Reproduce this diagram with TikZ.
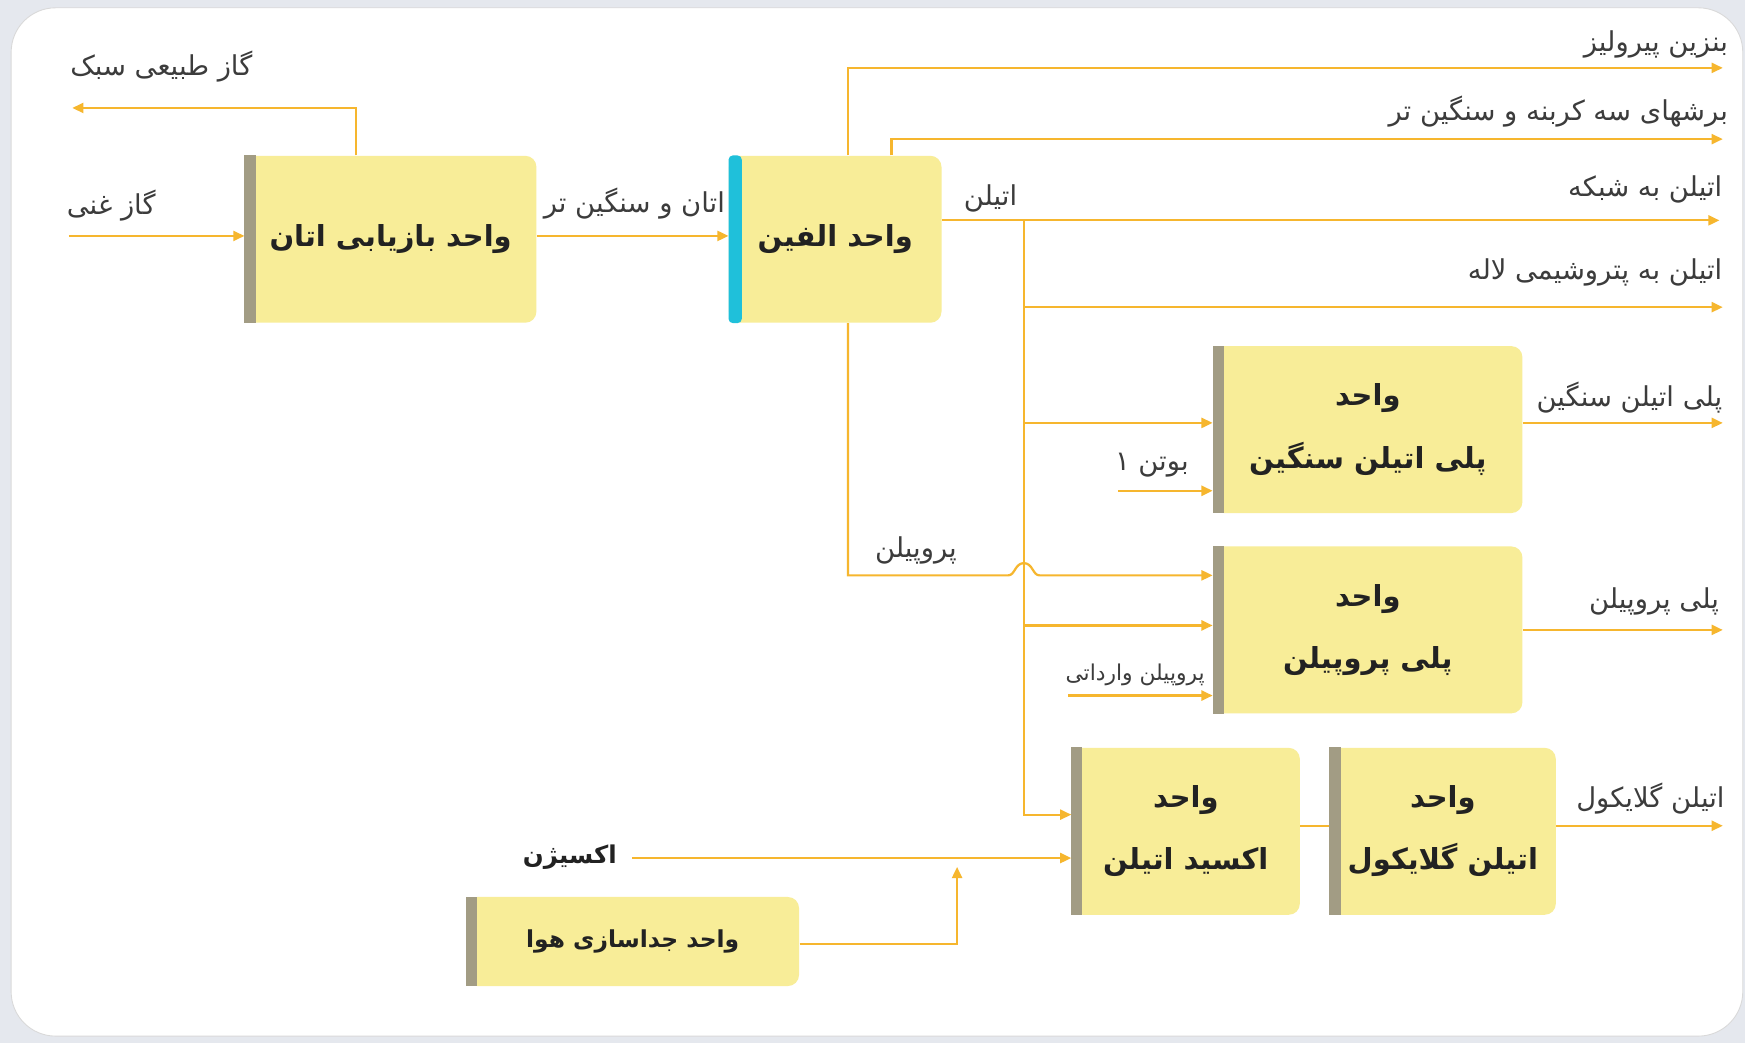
\documentclass[tikz,border=0pt]{standalone}
\usepackage{fontspec}
\usetikzlibrary{arrows.meta,calc}
\TeXXeTstate=1
\newfontfamily\fa[Script=Arabic]{DejaVu Sans}
\definecolor{boxY}{HTML}{F8ED98}
\definecolor{bandG}{HTML}{A29C84}
\definecolor{bandC}{HTML}{1FC0DA}
\definecolor{lineO}{HTML}{F6B62E}
\definecolor{txtD}{HTML}{222222}
\definecolor{txtL}{HTML}{3C3C3C}
\definecolor{pageB}{HTML}{E5E8EE}
\tikzset{
 unit/.style={fill=boxY, rounded corners=5pt, inner sep=0pt, minimum height=75pt, text=txtD, font=\fa\bfseries\fontsize{13}{28}\selectfont, align=center},
 flow/.style={draw=lineO, line width=1pt},
 arr/.style={flow, -{Triangle[length=5pt,width=4.5pt]}},
 lbl/.style={text=txtL, font=\fa\fontsize{12.3}{14}\selectfont, inner sep=0pt},
}
\begin{document}
\begin{tikzpicture}[x=0.5pt,y=-0.5pt]
\useasboundingbox (0,0) rectangle (1568,937);
\fill[pageB] (0,0) rectangle (1568,937);
\fill[white, draw=black!15, rounded corners=20pt] (10,7) rectangle (1566,931);

% units
\node[unit, minimum width=131pt] (rec) at (351,215) {\beginR واحد بازیابی اتان\endR};
\node[unit, minimum width=95.5pt] (ole) at (750.5,215) {\beginR واحد الفین\endR};
\node[unit, minimum width=139pt] (pe) at (1229,386) {\beginR واحد\endR\\\beginR پلی اتیلن سنگین\endR};
\node[unit, minimum width=139pt] (pp) at (1229,566) {\beginR واحد\endR\\\beginR پلی پروپیلن\endR};
\node[unit, minimum width=102.5pt] (eo) at (1065.5,747) {\beginR واحد\endR\\\beginR اکسید اتیلن\endR};
\node[unit, minimum width=101.5pt] (eg) at (1296.5,747) {\beginR واحد\endR\\\beginR اتیلن گلایکول\endR};
\node[unit, minimum width=149.5pt, minimum height=40pt, font=\fa\bfseries\fontsize{10.5}{13}\selectfont] (air) at (568.5,846) {\beginR واحد جداسازی هوا\endR};
\foreach \n in {rec,pe,pp,eo,eg,air} \fill[bandG] (\n.north west) rectangle ([xshift=5pt]\n.south west);
\fill[bandC, rounded corners=2pt] (ole.north west) rectangle ([xshift=6pt]ole.south west);

% connectors
\coordinate (gasL) at (65,97);
\coordinate (k1) at (320,97);
\draw[arr] (rec.north -| k1) -- (k1) -- (gasL);
\coordinate (richL) at (62,212);
\draw[arr] (richL) -- (rec.west |- richL);
\draw[arr] (rec.east |- richL) -- (ole.west |- richL);

\coordinate (pgR) at (1548,61);
\coordinate (k3) at (762,61);
\draw[arr] (ole.north -| k3) -- (k3) -- (pgR);
\coordinate (c3R) at (1548,125);
\coordinate (k4) at (801,125);
\draw[arr] (ole.north -| k4) -- (k4) -- (c3R);
\coordinate (ethR) at (1545,198);
\coordinate (j1) at (920,198);
\draw[arr] (ole.east |- ethR) -- (ethR);
\coordinate (j2) at (920,276);
\coordinate (lalR) at (1548,276);
\draw[arr] (j2) -- (lalR);
\coordinate (j3) at (920,380);
\draw[arr] (j3) -- (pe.west |- j3);
\coordinate (j4) at (920,562);
\draw[arr] (j4) -- (pp.west |- j4);
\coordinate (j5) at (920,732);
\draw[arr] (j1) -- (j5) -- (eo.west |- j5);
\coordinate (butL) at (1005,441);
\draw[arr] (butL) -- (pe.west |- butL);
\coordinate (impL) at (960,625);
\draw[arr] (impL) -- (pp.west |- impL);
\coordinate (k5) at (762,517);
\draw[arr] (ole.south -| k5) -- (k5) -- (906,517) .. controls (912,517) and (912,506) .. (920,506) .. controls (928,506) and (928,517) .. (934,517) -- (pp.west |- k5);

\coordinate (peR) at (1548,380);
\draw[arr] (pe.east |- peR) -- (peR);
\coordinate (ppR) at (1548,566);
\draw[arr] (pp.east |- ppR) -- (ppR);
\coordinate (egR) at (1548,742);
\draw[arr] (eg.east |- egR) -- (egR);
\draw[flow] (eo.east |- egR) -- (eg.west |- egR);
\coordinate (oxL) at (568,771);
\draw[arr] (oxL) -- (eo.west |- oxL);
\coordinate (k6) at (860,848);
\coordinate (k7) at (860,779);
\draw[arr] (air.east |- k6) -- (k6) -- (k7);

% labels
\node[lbl] (tLight) at (145,60) {\beginR گاز طبیعی سبک\endR};
\node[lbl] (tRich) at (100,185) {\beginR گاز غنی\endR};
\node[lbl] (tEth) at (570,183) {\beginR اتان و سنگین تر\endR};
\node[lbl] (tEthy) at (890,178) {\beginR اتیلن\endR};
\node[lbl, anchor=east] (tPyro) at (1553,40) {\beginR بنزین پیرولیز\endR};
\node[lbl, anchor=east] (tC3) at (1553,100) {\beginR برشهای سه کربنه  و سنگین تر\endR};
\node[lbl, anchor=east] (tNet) at (1548,170) {\beginR اتیلن به شبکه\endR};
\node[lbl, anchor=east] (tLal) at (1548,245) {\beginR اتیلن به پتروشیمی لاله\endR};
\node[lbl, anchor=east] (tHD) at (1548,357) {\beginR پلی اتیلن سنگین\endR};
\node[lbl] (tBut) at (1035,418) {\beginR بوتن ۱\endR};
\node[lbl] (tProp) at (823,495) {\beginR پروپیلن\endR};
\node[lbl, anchor=east] (tPP) at (1545,540) {\beginR پلی پروپیلن\endR};
\node[lbl, font=\fa\fontsize{9.8}{11}\selectfont] (tImp) at (1020,606) {\beginR پروپیلن وارداتی\endR};
\node[lbl, anchor=east] (tEG) at (1550,718) {\beginR اتیلن گلایکول\endR};
\node[lbl, font=\fa\bfseries\fontsize{11}{13}\selectfont, text=txtD] (tOx) at (512,770) {\beginR اکسیژن\endR};
\end{tikzpicture}
\end{document}
